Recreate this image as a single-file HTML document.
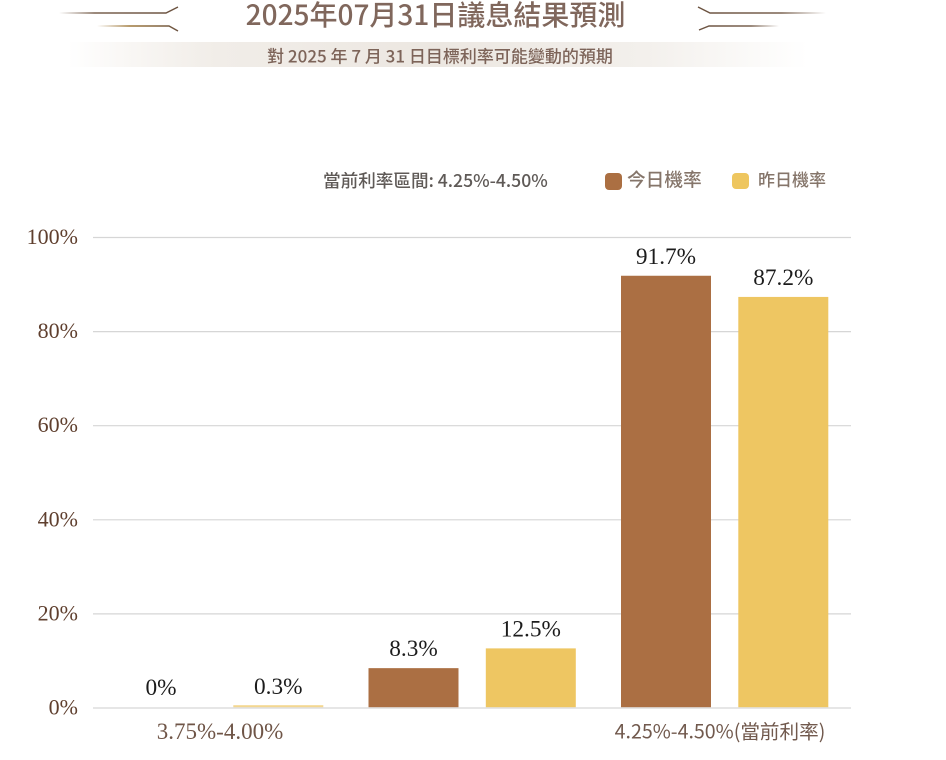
<!DOCTYPE html>
<html lang="zh-Hant">
<head>
<meta charset="utf-8">
<title>2025年07月31日議息結果預測</title>
<style>
html,body{margin:0;padding:0;background:#fff;width:946px;height:760px;overflow:hidden}
svg{display:block}
.noto{font-family:"Noto Sans CJK TC",sans-serif}
.serif{font-family:"Liberation Serif","Noto Serif CJK SC",serif}
</style>
</head>
<body>
<svg id="chart" xmlns="http://www.w3.org/2000/svg" width="946" height="760" viewBox="0 0 946 760">
  <defs>
    <linearGradient id="line-fade-left" x1="0" x2="1" y1="0" y2="0">
      <stop offset="0" stop-color="#7a6250" stop-opacity="0"/>
      <stop offset="0.3" stop-color="#7a6250"/>
      <stop offset="1" stop-color="#6b5240"/>
    </linearGradient>
    <linearGradient id="line-fade-left-gold" x1="0" x2="1" y1="0" y2="0">
      <stop offset="0" stop-color="#a07a3c" stop-opacity="0"/>
      <stop offset="0.4" stop-color="#a07a3c"/>
      <stop offset="1" stop-color="#6b5240"/>
    </linearGradient>
    <linearGradient id="line-fade-right" x1="0" x2="1" y1="0" y2="0">
      <stop offset="0" stop-color="#6b5240"/>
      <stop offset="0.65" stop-color="#7a6250"/>
      <stop offset="1" stop-color="#7a6250" stop-opacity="0"/>
    </linearGradient>
    <linearGradient id="banner-fade" x1="0" x2="1" y1="0" y2="0">
      <stop offset="0" stop-color="#efeae4" stop-opacity="0"/>
      <stop offset="0.2" stop-color="#f1ede8"/>
      <stop offset="0.5" stop-color="#ece7e1"/>
      <stop offset="0.78" stop-color="#f3f0ec"/>
      <stop offset="1" stop-color="#f3f0ec" stop-opacity="0"/>
    </linearGradient>
  </defs>

  <g fill="none">
    <path d="M59 13H166L178 7" stroke="url(#line-fade-left)" stroke-width="1.4"/>
    <path d="M97 26H169L178 31" stroke="url(#line-fade-left-gold)" stroke-width="1.4"/>
  </g>
  <g fill="none">
    <path d="M698 7L710 13H826" stroke="url(#line-fade-right)" stroke-width="1.4"/>
    <path d="M699 30L709 26H779" stroke="url(#line-fade-right)" stroke-width="1.4"/>
  </g>

  <text class="noto" x="435.5" y="25" text-anchor="middle" font-size="28" font-weight="500" fill="#80675c">2025年07月31日議息結果預測</text>
  <rect x="68" y="42" width="740" height="25" fill="url(#banner-fade)"/>
  <text class="noto" x="440" y="62.5" text-anchor="middle" font-size="17" font-weight="500" fill="#7d6459">對 2025 年 7 月 31 日目標利率可能變動的預期</text>

  <text class="noto" x="323" y="187" font-size="17.6" font-weight="500" fill="#5f5a57">當前利率區間: 4.25%-4.50%</text>

  <g>
    <g>
      <rect x="605" y="173" width="17" height="17" rx="4" fill="#ab6f42"/>
      <text class="noto" x="627" y="186.5" font-size="18.7" font-weight="500" fill="#85756a">今日機率</text>
    </g>
    <g>
      <rect x="732" y="173" width="17" height="16" rx="4" fill="#eec65f"/>
      <text class="noto" x="758" y="186" font-size="17" font-weight="500" fill="#85756a">昨日機率</text>
    </g>
  </g>

  <g id="grid"></g>
  <g id="yticks"></g>
  <g id="bars"></g>
  <g id="values"></g>
  <g id="xticks"></g>
</svg>
<script>
const categories = ['3.75%-4.00%', '4.00%-4.25%', '4.25%-4.50%(當前利率)'];
const categoryLabels = ['3.75%-4.00%', '', '4.25%-4.50%(當前利率)'];
const todayValues = [0, 8.3, 91.7];
const yesterdayValues = [0.3, 12.5, 87.2];
const yTicks = [0, 20, 40, 60, 80, 100];

const NS = 'http://www.w3.org/2000/svg';
const plotLeft = 93;
const plotRight = 851;
const plotBase = 708;
const plotTop = 237.5;
const barLift = 0.8;
const barWidth = 90;

function yScale(v) {
  return plotBase - (v / 100) * (plotBase - plotTop);
}
function xBar(groupIndex, seriesIndex) {
  return 116 + groupIndex * 252.5 + seriesIndex * 117.3;
}
function make(tag, attrs, parent, text) {
  const el = document.createElementNS(NS, tag);
  for (const k in attrs) el.setAttribute(k, attrs[k]);
  if (text !== undefined) el.textContent = text;
  parent.appendChild(el);
  return el;
}
function fmt(v) {
  return v + '%';
}

const grid = document.getElementById('grid');
const yticksG = document.getElementById('yticks');
yTicks.forEach(function (t) {
  const line = make('line', { x1: plotLeft, x2: plotRight, y1: yScale(t), y2: yScale(t), stroke: '#d6d6d6', 'stroke-width': 1.2 }, grid);
  
  
  const label = make('text', { x: 78, y: yScale(t) + 6.5, 'text-anchor': 'end', 'font-size': 22, fill: '#5f3f2e', class: 'serif' }, yticksG, fmt(t));
  
  
});

const barsG = document.getElementById('bars');
const valuesG = document.getElementById('values');
const seriesList = [
  { key: 'today', values: todayValues, color: '#ab6f43' },
  { key: 'yesterday', values: yesterdayValues, color: '#eec662' }
];
seriesList.forEach(function (s, si) {
  s.values.forEach(function (v, gi) {
    const x = xBar(gi, si);
    const y = yScale(v) - barLift;
    const h = plotBase - barLift - y;
    if (v > 0) {
      const drawH = Math.max(h, 2);
      const bar = make('rect', { x: x, y: plotBase - barLift - drawH, width: barWidth, height: drawH, fill: s.color, opacity: h < 3 ? 0.7 : 1 }, barsG);
      
      
    }
    const label = make('text', { x: x + barWidth / 2, y: y - 12, 'text-anchor': 'middle', 'font-size': 23.3, fill: '#1c1c1c', class: 'serif' }, valuesG, fmt(v));
    
    
  });
});

const xticksG = document.getElementById('xticks');
categoryLabels.forEach(function (c, i) {
  if (!c) return;
  const current = c.indexOf('當前') >= 0;
  const label = make('text', {
    x: 220 + i * 252.5 - (current ? 5 : 0),
    y: current ? 738.5 : 739,
    'text-anchor': 'middle',
    'font-size': current ? 19.6 : 23,
    'font-weight': 400,
    fill: current ? '#71594d' : '#6f5547',
    class: current ? 'noto' : 'serif'
  }, xticksG, c);
  
  
});
</script>
</body>
</html>
